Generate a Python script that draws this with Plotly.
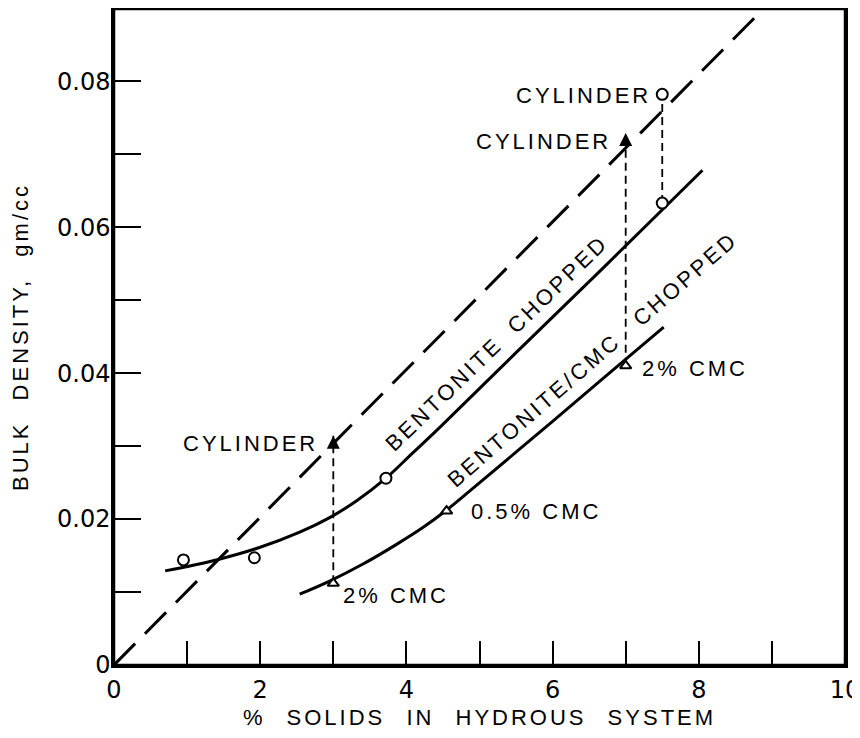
import plotly.graph_objects as go

# dashed line: cylinder packing
cyl_line_x = [0, 9.0]
cyl_line_y = [0, 0.0911]

# bentonite chopped: curve + measured points
bent_curve_x = [0.70, 1.40, 1.99, 2.54, 2.95, 3.32, 3.72, 4.08, 4.45, 5.50, 6.70, 8.05]
bent_curve_y = [0.0129, 0.0144, 0.0161, 0.0182, 0.0202, 0.0225, 0.0256, 0.0290, 0.0325,
                0.0428, 0.0545, 0.0678]
bent_pts_x = [0.95, 1.92, 3.72, 7.5]
bent_pts_y = [0.0144, 0.0147, 0.0256, 0.0633]

# bentonite/CMC chopped
cmc_curve_x = [2.54, 2.95, 3.40, 3.86, 4.22, 4.52, 4.86, 6.00, 6.80, 7.52]
cmc_curve_y = [0.0097, 0.0115, 0.0138, 0.0165, 0.0188, 0.0210, 0.0238, 0.0334, 0.0402, 0.0463]
cmc_pts_x = [3.0, 4.55, 7.0]
cmc_pts_y = [0.0112, 0.0211, 0.041]

# cylinder values (dashed verticals from chopped to cylinder)
cyl_x = [3.0, 7.0, 7.5]
cyl_from = [0.0112, 0.041, 0.0633]
cyl_to = [0.0314, 0.0729, 0.0782]

x_ticks = [0, 2, 4, 6, 8, 10]
x_ticktext = ["0", "2", "4", "6", "8", "10"]
y_ticks = [0, 0.02, 0.04, 0.06, 0.08]
y_ticktext = ["0", "0.02", "0.04", "0.06", "0.08"]

FONT = "Liberation Sans, Arial, sans-serif"
TICK_FONT = "DejaVu Sans, Liberation Sans, sans-serif"


def sp(t, ls=3, ws=0):
    return f'<span style="letter-spacing:{ls}px;word-spacing:{ws}px">{t}</span>'


fig = go.Figure()

fig.add_trace(go.Scatter(x=cyl_line_x, y=cyl_line_y, mode="lines",
                         line=dict(color="black", width=3, dash="30px,14px"),
                         showlegend=False, hoverinfo="skip"))

for cx, y0, y1 in zip(cyl_x, cyl_from, cyl_to):
    fig.add_trace(go.Scatter(x=[cx, cx], y=[y0, y1], mode="lines",
                             line=dict(color="black", width=1.8, dash="8px,5px"),
                             showlegend=False, hoverinfo="skip"))

fig.add_trace(go.Scatter(x=bent_curve_x, y=bent_curve_y, mode="lines",
                         line=dict(color="black", width=3, shape="spline", smoothing=1.0),
                         showlegend=False))
fig.add_trace(go.Scatter(x=cmc_curve_x, y=cmc_curve_y, mode="lines",
                         line=dict(color="black", width=3, shape="spline", smoothing=1.0),
                         showlegend=False))

# markers
fig.add_trace(go.Scatter(x=bent_pts_x + [cyl_x[2]], y=bent_pts_y + [cyl_to[2]], mode="markers",
                         marker=dict(symbol="circle", size=11, color="white",
                                     line=dict(color="black", width=2)),
                         showlegend=False))
fig.add_trace(go.Scatter(x=cmc_pts_x, y=cmc_pts_y, mode="markers",
                         marker=dict(symbol="triangle-up", size=10, color="white",
                                     line=dict(color="black", width=2)),
                         showlegend=False))

# arrow heads on the first two cylinder lines
for cx, y1 in zip(cyl_x[:2], cyl_to[:2]):
    fig.add_annotation(x=cx, y=y1, ax=0, ay=14, text="", showarrow=True,
                       arrowhead=2, arrowsize=1.3, arrowwidth=2, arrowcolor="black")

labels = [
    (2.82, 0.0304, "CYLINDER", "right"),
    (6.83, 0.0718, "CYLINDER", "right"),
    (7.38, 0.0781, "CYLINDER", "right"),
    (3.11, 0.0095, "2% CMC", "left"),
    (4.86, 0.0211, "0.5% CMC", "left"),
    (7.20, 0.0407, "2% CMC", "left"),
]
for lx, ly, t, anc in labels:
    fig.add_annotation(x=lx, y=ly, text=sp(t), showarrow=False, xanchor=anc, yanchor="middle",
                       font=dict(family=FONT, size=22, color="black"))

fig.add_annotation(x=5.23, y=0.0441, text=sp("BENTONITE CHOPPED", 3, 8), showarrow=False,
                   textangle=-44, font=dict(family=FONT, size=22, color="black"))
fig.add_annotation(x=6.55, y=0.0418, text=sp("BENTONITE/CMC CHOPPED", 3, 16), showarrow=False,
                   textangle=-41, font=dict(family=FONT, size=22, color="black"))

# frame around the plot area
fig.add_shape(type="rect", xref="paper", yref="paper", x0=0, y0=0, x1=1, y1=1,
              line=dict(color="black", width=2.5), layer="above")

axis_common = dict(showline=True, linecolor="black", linewidth=2.5, mirror=True,
                   showgrid=False, zeroline=False, ticks="inside", tickcolor="black",
                   tickwidth=2, automargin=False, ticklabeloverflow="allow",
                   tickfont=dict(family=TICK_FONT, size=24, color="black"))

fig.update_xaxes(range=[0, 10], tickmode="array", tickvals=x_ticks,
                 ticktext=x_ticktext, ticklen=24, ticklabelstandoff=1,
                 minor=dict(dtick=1, ticks="inside", ticklen=24, tickwidth=2, tickcolor="black"),
                 title=dict(text=sp("% SOLIDS IN HYDROUS SYSTEM", 3, 12),
                            font=dict(family=FONT, size=22, color="black"), standoff=10),
                 **axis_common)
fig.update_yaxes(range=[0, 0.0899], tickmode="array", tickvals=y_ticks,
                 ticktext=y_ticktext, ticklen=27, ticklabelstandoff=-4,
                 minor=dict(dtick=0.01, ticks="inside", ticklen=27, tickwidth=2, tickcolor="black"),
                 title=dict(text=sp("BULK DENSITY, gm/cc", 3, 12),
                            font=dict(family=FONT, size=22, color="black"), standoff=24),
                 **axis_common)

# page body adds an 8px offset; figure kept small enough to avoid scrollbars
fig.update_layout(width=852, height=722, plot_bgcolor="white", paper_bgcolor="white",
                  margin=dict(l=106, r=15, t=1, b=65), showlegend=False)

fig.write_html("out.html")
